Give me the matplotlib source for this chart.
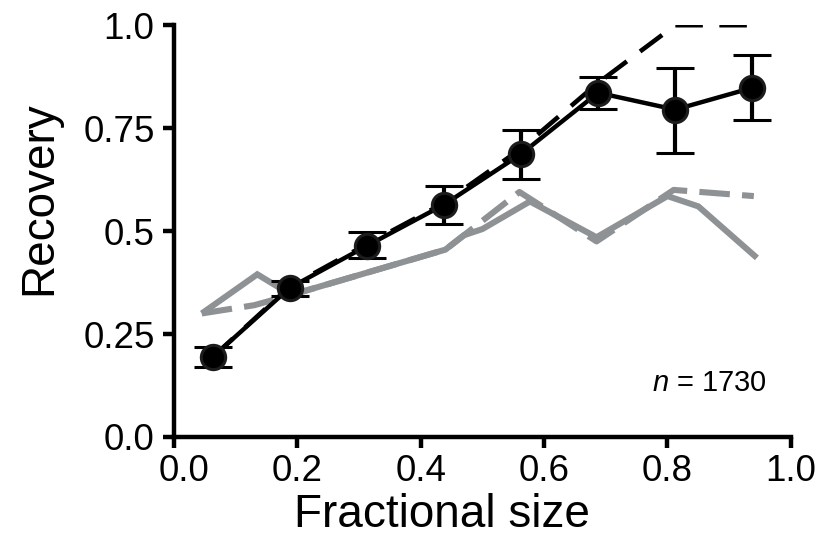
import matplotlib
matplotlib.use("Agg")
import matplotlib.pyplot as plt
from matplotlib.transforms import ScaledTranslation

plt.rcParams['font.family'] = ['Liberation Sans', 'DejaVu Sans']
plt.rcParams['mathtext.fontset'] = 'custom'
plt.rcParams['mathtext.it'] = 'Liberation Sans:italic'
plt.rcParams['mathtext.rm'] = 'Liberation Sans'

# Binned data (black)
bin_x = [0.0625, 0.1875, 0.3125, 0.4375, 0.5625, 0.6875, 0.8125, 0.9375]
recovery = [0.194, 0.362, 0.464, 0.564, 0.687, 0.836, 0.795, 0.848]
err_low = [0.170, 0.343, 0.435, 0.518, 0.627, 0.797, 0.690, 0.770]
err_high = [0.219, 0.380, 0.498, 0.610, 0.746, 0.875, 0.897, 0.928]

# Black dashed expectation
dash_black_x = [0.0625, 0.1875, 0.3125, 0.4375, 0.5625, 0.6875, 0.8125, 0.9375]
dash_black_y = [0.194, 0.365, 0.468, 0.568, 0.700, 0.860, 1.0, 1.0]

# Gray solid
gray_solid_x = [0.045, 0.135, 0.19, 0.44, 0.47, 0.50, 0.577, 0.685, 0.80, 0.85, 0.945]
gray_solid_y = [0.300, 0.395, 0.345, 0.455, 0.490, 0.505, 0.572, 0.485, 0.585, 0.560, 0.435]

# Gray dashed
gray_dash_x = [0.045, 0.13, 0.19, 0.44, 0.56, 0.685, 0.81, 0.94]
gray_dash_y = [0.300, 0.320, 0.345, 0.455, 0.595, 0.475, 0.600, 0.585]

x_ticks = [0.0, 0.2, 0.4, 0.6, 0.8, 1.0]
x_ticklabels = ['0.0', '0.2', '0.4', '0.6', '0.8', '1.0']
y_ticks = [0.0, 0.25, 0.5, 0.75, 1.0]
y_ticklabels = ['0.0', '0.25', '0.5', '0.75', '1.0']

gray = '#8f9294'

fig = plt.figure(figsize=(8.17, 5.48), dpi=100)
ax = fig.add_axes([0.213, 0.2026, 0.755, 0.7514])

ax.plot(gray_solid_x, gray_solid_y, color=gray, lw=4.4, solid_joinstyle='miter',
        solid_capstyle='butt', zorder=1)
ax.plot(gray_dash_x, gray_dash_y, color=gray, lw=4.4, dashes=(5, 2),
        dash_capstyle='butt', zorder=1)
ax.plot(dash_black_x, dash_black_y, color='black', lw=3.3, dashes=(6, 3.6),
        dash_capstyle='butt', zorder=2)

yerr = [[r - l for r, l in zip(recovery, err_low)],
        [h - r for r, h in zip(recovery, err_high)]]
ax.errorbar(bin_x, recovery, yerr=yerr, fmt='o', color='black', ecolor='black',
            elinewidth=3.0, capsize=14, capthick=3.6, ms=17.5, mfc='black',
            mec='#1c1c1c', mew=2.2, zorder=4)
ax.plot(bin_x, recovery, color='black', lw=3.2, zorder=3)

ax.set_xlim(0, 1.0)
ax.set_ylim(0, 1.0)
ax.set_xticks(x_ticks)
ax.set_xticklabels(x_ticklabels)
ax.set_yticks(y_ticks)
ax.set_yticklabels(y_ticklabels)

for s in ['top', 'right']:
    ax.spines[s].set_visible(False)
for s in ['left', 'bottom']:
    ax.spines[s].set_linewidth(3.2)
ax.tick_params(axis='both', direction='out', length=8, width=3.2,
               labelsize=26.5, colors='black')
ax.tick_params(axis='x', pad=4)
ax.tick_params(axis='y', pad=6)

# first x tick label sits slightly right of its tick in the reference
first = ax.get_xticklabels()[0]
first.set_transform(first.get_transform() + ScaledTranslation(0.10, 0, fig.dpi_scale_trans))

ax.set_xlabel('Fractional size', fontsize=33)
ax.set_ylabel('Recovery', fontsize=33)
ax.xaxis.set_label_coords(0.435, -0.135)
ax.yaxis.set_label_coords(-0.183, 0.58)

ax.text(0.962, 0.131, r'$n$ = 1730', fontsize=21, ha='right', va='center',
        transform=ax.transData)

for sp in ax.spines.values():
    sp.set_clip_on(False)

fig.savefig('out.png', dpi=100)
